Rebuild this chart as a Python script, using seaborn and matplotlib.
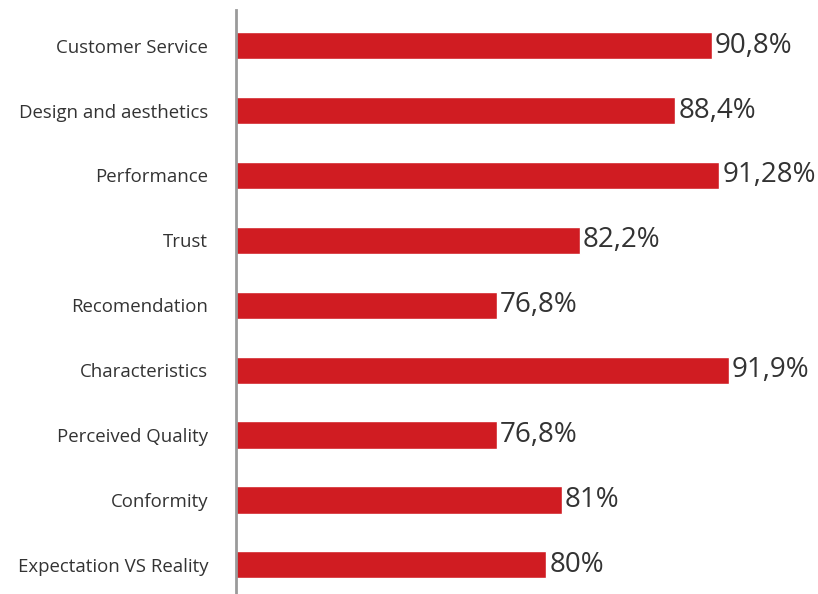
import pandas as pd
import matplotlib
matplotlib.use('Agg')
import matplotlib.pyplot as plt
import seaborn as sns

# 数据
categories = ['Customer Service', 'Design and aesthetics', 'Performance', 'Trust',
              'Recomendation', 'Characteristics', 'Perceived Quality', 'Conformity',
              'Expectation VS Reality']
values = [90.8, 88.4, 91.28, 82.2, 76.8, 91.9, 76.8, 81, 80]
value_labels = ['90,8%', '88,4%', '91,28%', '82,2%', '76,8%', '91,9%', '76,8%', '81%', '80%']

sns.set_style('white')
plt.rcParams['font.family'] = ['Open Sans', 'DejaVu Sans']

df = pd.DataFrame({'category': categories, 'value': values})

fig = plt.figure(figsize=(8.18, 5.94), dpi=100)
ax = fig.add_axes([236 / 818, 0, 1 - 236 / 818, 1 - 10 / 594])

sns.barplot(data=df, x='value', y='category', color='#D01C22', saturation=1,
            width=0.42, ax=ax, orient='h')

ax.set_xlim(59.8, 97.7)
ax.set_ylim(8.45, -0.55)

# 数值标签
for i, (v, lab) in enumerate(zip(values, value_labels)):
    ax.text(v + 0.2, i, lab, va='center', ha='left', fontsize=20, color='#333333')

ax.set_xlabel('')
ax.set_ylabel('')
ax.set_xticks([])
ax.tick_params(axis='y', length=0, pad=20, labelsize=13.4, labelcolor='#333333')
for s in ['top', 'right', 'bottom']:
    ax.spines[s].set_visible(False)
ax.spines['left'].set_color('#9a9a9a')
ax.spines['left'].set_linewidth(2)

fig.savefig('out.png', dpi=100)
